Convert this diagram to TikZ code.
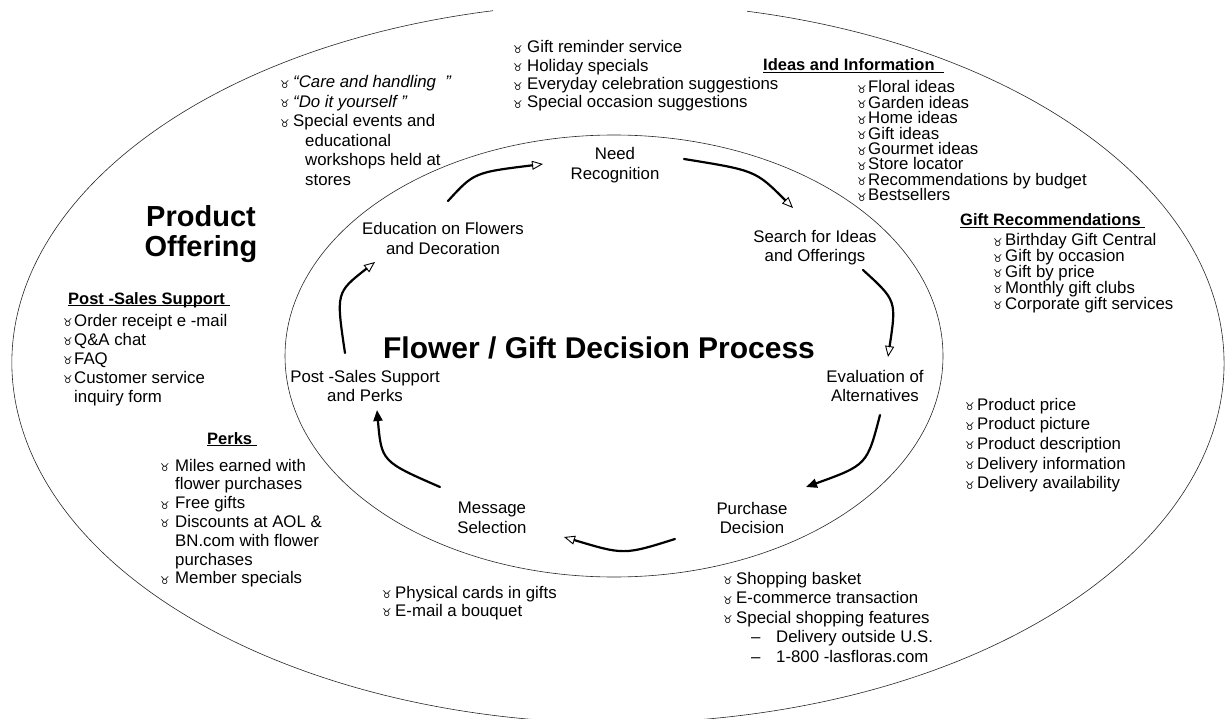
\documentclass[tikz,border=0pt]{standalone}
\usepackage{fontspec}
\setmainfont{Liberation Sans}
\newfontfamily\dejavu{DejaVu Sans}
\usetikzlibrary{arrows.meta}
\newlength\bw
\newcommand\bu{{\dejavu\fontsize{10.5}{10.5}\selectfont\raisebox{-0.5pt}{\symbol{"2649}}}}
\newcommand\itm[1]{\hbox{\makebox[\bw][l]{\bu}#1}}
\newcommand\cnt[1]{\hbox{\hspace*{\bw}#1}}
\newcommand\lst[2]{\vtop{\baselineskip=#1pt\lineskiplimit=-50pt\lineskip=0pt #2}}
\newcommand\hdul[1]{\setbox0\hbox{#1}\rlap{\rule[-2.4pt]{\wd0}{1.1pt}}\box0}
\begin{document}
\begin{tikzpicture}[x=1pt,y=1pt,
  every node/.style={inner sep=0pt, font=\fontsize{16.8}{19.5}\selectfont},
  lbl/.style={align=center},
  head/.style={anchor=base west, font=\bfseries\fontsize{16.5}{19}\selectfont},
  lstn/.style={anchor=base west},
  ell/.style={draw=black!85, line width=0.6pt},
  flow/.style={line width=2.2pt, line cap=round, -{Triangle[open,length=11pt,width=9pt,line width=0.9pt]}},
  flowf/.style={line width=2.2pt, line cap=round, -{Triangle[length=11pt,width=9pt]}}]
\useasboundingbox (0,0) rectangle (1225,-719);
\clip (0,0) rectangle (1225,-719);
\draw[ell] (493,-10.7) arc[start angle=101.9, end angle=437.7, x radius=606, y radius=360];
\draw[ell] (614,-356) ellipse [x radius=329, y radius=221];

% process labels
\node[lbl] (need) at (615,-165) {Need\\Recognition};
\node[lbl] (search) at (815,-247.5) {Search for Ideas\\and Offerings};
\node[lbl] (eval) at (875,-386) {Evaluation of\\Alternatives};
\node[lbl] (purch) at (752,-518) {Purchase\\Decision};
\node[lbl] (msg) at (492,-518) {Message\\Selection};
\node[lbl] (post) at (365,-386) {Post -Sales Support\\and Perks};
\node[lbl] (edu) at (443,-238.5) {Education on Flowers\\and Decoration};
\node[font=\bfseries\fontsize{30}{32}\selectfont] (title) at (599,-348) {Flower / Gift Decision Process};
\node[lbl, font=\bfseries\fontsize{29}{29.5}\selectfont] (po) at (201,-234) {Product\\Offering};

% arrows
\coordinate (a1s) at (448,-201); \coordinate (a1e) at (543,-164);
\coordinate (a2s) at (684,-159); \coordinate (a2e) at (793,-208);
\coordinate (a3s) at (863,-270); \coordinate (a3e) at (888,-357);
\coordinate (a4s) at (880,-415); \coordinate (a4e) at (806,-487);
\coordinate (a5s) at (675,-539); \coordinate (a5e) at (564,-537);
\coordinate (a6s) at (440,-487); \coordinate (a6e) at (377,-410);
\coordinate (a7s) at (345,-353); \coordinate (a7e) at (375,-262);
\draw[flow] (a1s) .. controls (474,-172.5) .. (a1e);
\draw[flow] (a2s) .. controls (755.5,-170.5) .. (a2e);
\draw[flow] (a3s) .. controls (896.5,-300.5) .. (a3e);
\draw[flowf] (a4s) .. controls (867,-465) .. (a4e);
\draw[flow] (a5s) .. controls (624,-555) .. (a5e);
\draw[flowf] (a6s) .. controls (381.5,-461.5) .. (a6e);
\draw[flow] (a7s) .. controls (336,-292.5) .. (a7e);

% lists
\node[lstn] (toplist) at (513,-53) {\setlength\bw{14pt}\lst{18.3}{%
  \itm{Gift reminder service}\itm{Holiday specials}%
  \itm{Everyday celebration suggestions}\itm{Special occasion suggestions}}};
\node[lstn] (care) at (280,-88) {\setlength\bw{13pt}\lst{19.5}{%
  \itm{\textit{“Care and handling\ \ ”}}\itm{\textit{“Do it yourself ”}}%
  \itm{Special events and}\cnt{\hspace*{12pt}educational}%
  \cnt{\hspace*{12pt}workshops held at}\cnt{\hspace*{12pt}stores}}};
\node[head] (ideash) at (763,-71) {\hdul{Ideas and Information\ \ }};
\node[lstn] (ideas) at (857,-93) {\setlength\bw{11pt}\lst{15.4}{%
  \itm{Floral ideas}\itm{Garden ideas}\itm{Home ideas}\itm{Gift ideas}%
  \itm{Gourmet ideas}\itm{Store locator}\itm{Recommendations by budget}\itm{Bestsellers}}};
\node[head] (gifth) at (960,-226) {\hdul{Gift Recommendations\ }};
\node[lstn] (gift) at (993,-246) {\setlength\bw{12pt}\lst{15.75}{%
  \itm{Birthday Gift Central}\itm{Gift by occasion}\itm{Gift by price}%
  \itm{Monthly gift clubs}\itm{Corporate gift services}}};
\node[head] (posth) at (68,-304) {\hdul{Post -Sales Support\ }};
\node[lstn] (postl) at (63,-326) {\setlength\bw{11pt}\lst{19}{%
  \itm{Order receipt e -mail}\itm{Q\&A chat}\itm{FAQ}%
  \itm{Customer service}\cnt{inquiry form}}};
\node[head] (perksh) at (207,-444) {\hdul{Perks\ }};
\node[lstn] (perks) at (160,-471) {\setlength\bw{15pt}\lst{18.8}{%
  \itm{Miles earned with}\cnt{flower purchases}\itm{Free gifts}%
  \itm{Discounts at AOL \&}\cnt{BN.com with flower}\cnt{purchases}\itm{Member specials}}};
\node[lstn] (msgl) at (382,-598) {\setlength\bw{13pt}\lst{18}{%
  \itm{Physical cards in gifts}\itm{E-mail a bouquet}}};
\node[lstn] (evall) at (965,-410) {\setlength\bw{12pt}\lst{19.7}{%
  \itm{Product price}\itm{Product picture}\itm{Product description}%
  \itm{Delivery information}\itm{Delivery availability}}};
\node[lstn] (purl) at (723,-584) {\setlength\bw{13pt}\lst{19.5}{%
  \itm{Shopping basket}\itm{E-commerce transaction}\itm{Special shopping features}%
  \hbox{\hspace*{28pt}\makebox[25pt][l]{–}Delivery outside U.S.}%
  \hbox{\hspace*{28pt}\makebox[25pt][l]{–}1-800 -lasfloras.com}}};
\end{tikzpicture}
\end{document}
